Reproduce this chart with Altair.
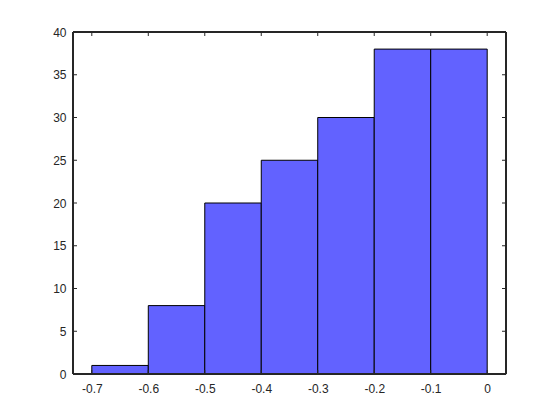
import altair as alt
import pandas as pd

bin_start = [-0.7, -0.6, -0.5, -0.4, -0.3, -0.2, -0.1]
bin_end = [-0.6, -0.5, -0.4, -0.3, -0.2, -0.1, 0.0]
counts = [1, 8, 20, 25, 30, 38, 38]
x_ticks = [-0.7, -0.6, -0.5, -0.4, -0.3, -0.2, -0.1, 0.0]
y_ticks = [0, 5, 10, 15, 20, 25, 30, 35, 40]

W, H = 433, 342
x_dom = [-0.7333, 0.0333]
y_dom = [0, 40]

bars = pd.DataFrame({"start": bin_start, "end": bin_end, "count": counts})
xt = pd.DataFrame({"v": x_ticks})
yt = pd.DataFrame({"v": y_ticks})

xs = alt.Scale(domain=x_dom, nice=False, zero=False)
ys = alt.Scale(domain=y_dom, nice=False)

axis_common = dict(domain=False, ticks=False, grid=False, labelFont="Liberation Sans",
                   labelFontSize=12, labelColor="#262626")

hist = alt.Chart(bars).mark_rect(color="#6262FF", stroke="black", strokeWidth=1).encode(
    x=alt.X("start:Q", scale=xs, title=None,
            axis=alt.Axis(values=x_ticks, format="~g", labelPadding=9,
                          labelExpr="replace(datum.label, '\u2212', '-')", **axis_common)),
    x2="end:Q",
    y=alt.Y("count:Q", scale=ys, title=None,
            axis=alt.Axis(values=y_ticks, labelPadding=7, **axis_common)),
    y2=alt.datum(0),
)

tick_style = dict(color="#262626", strokeWidth=1)
xb = alt.Chart(xt).mark_rule(**tick_style).encode(
    x=alt.X("v:Q", scale=xs), y=alt.value(H - 4), y2=alt.value(H))
xtop = alt.Chart(xt).mark_rule(**tick_style).encode(
    x=alt.X("v:Q", scale=xs), y=alt.value(0), y2=alt.value(4))
yl = alt.Chart(yt).mark_rule(**tick_style).encode(
    y=alt.Y("v:Q", scale=ys), x=alt.value(0), x2=alt.value(4))
yr = alt.Chart(yt).mark_rule(**tick_style).encode(
    y=alt.Y("v:Q", scale=ys), x=alt.value(W - 4), x2=alt.value(W))

frame_top = alt.Chart(xt).mark_rule(**tick_style).encode(
    x=alt.value(0), x2=alt.value(W), y=alt.value(0))
frame_bot = alt.Chart(xt).mark_rule(**tick_style).encode(
    x=alt.value(0), x2=alt.value(W), y=alt.value(H))
frame_l = alt.Chart(xt).mark_rule(**tick_style).encode(
    y=alt.value(0), y2=alt.value(H), x=alt.value(0))
frame_r = alt.Chart(xt).mark_rule(**tick_style).encode(
    y=alt.value(0), y2=alt.value(H), x=alt.value(W))

chart = alt.layer(hist, xb, xtop, yl, yr, frame_top, frame_bot, frame_l, frame_r).properties(
    width=W, height=H,
    autosize=alt.AutoSizeParams(type="none"),
    padding={"left": 65, "top": 24, "right": 40, "bottom": 40},
).configure_view(stroke=None).configure(background="white")

chart.save("out.html", embed_options={"renderer": "svg", "actions": False})
